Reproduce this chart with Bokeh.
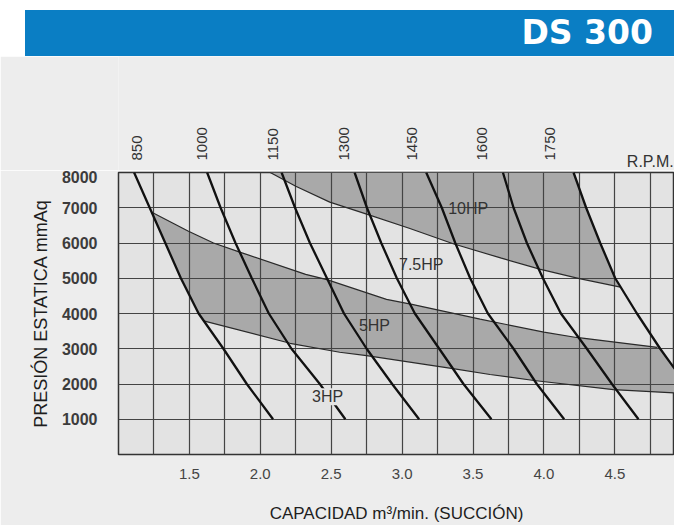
import math
from bokeh.plotting import figure
from bokeh.models import Range1d, FixedTicker, Div, Label
from bokeh.core.properties import value
from bokeh.layouts import column
from bokeh.embed import file_html
from bokeh.resources import INLINE

# ---------------- data ----------------
pressure = [8000, 7000, 6000, 5000, 4000, 3000, 2000, 1000]

rpm_850 = [1.11, 1.22, 1.33, 1.44, 1.565, 1.74, 1.905, 2.09]
rpm_1000 = [1.625, 1.72, 1.825, 1.94, 2.06, 2.22, 2.42, 2.60]
rpm_1150 = [2.15, 2.245, 2.35, 2.47, 2.59, 2.75, 2.93, 3.12]
rpm_1300 = [2.665, 2.752, 2.853, 2.963, 3.09, 3.262, 3.433, 3.63]
rpm_1450 = [3.17, 3.28, 3.375, 3.48, 3.605, 3.786, 3.95, 4.143]
rpm_1600 = [3.711, 3.786, 3.88, 3.993, 4.12, 4.303, 4.48, 4.667]
rpm_1750 = [4.209, 4.298, 4.397, 4.503, 4.656, 4.82, 5.0, 5.19]

rpm_names = ["850", "1000", "1150", "1300", "1450", "1600", "1750"]
rpm_label_x = [1.13, 1.59, 2.09, 2.59, 3.07, 3.56, 4.04]
rpm_unit = ["R.P.M."]
rpm_unit_x = [4.585]

# HP band boundaries
hp10_low_x = [2.07, 2.25, 2.49, 2.75, 3.05, 3.36, 3.70, 3.97, 4.25, 4.54]
hp10_low_y = [8000, 7610, 7160, 6820, 6420, 5980, 5570, 5260, 4990, 4750]

hp5_up_x = [1.235, 1.49, 1.67, 1.85, 2.32, 2.47, 2.89, 3.07, 3.55, 4.00, 4.23, 4.80]
hp5_up_y = [6870, 6340, 6000, 5750, 5110, 4960, 4400, 4260, 3840, 3470, 3320, 3040]

hp5_low_x = [1.60, 2.21, 2.56, 2.75, 3.37, 3.62, 3.93, 4.49, 4.92]
hp5_low_y = [3790, 3155, 2900, 2806, 2430, 2270, 2100, 1840, 1745]

hp_names = ["3HP", "5HP", "7.5HP", "10HP"]
hp_label_x = [2.475, 2.805, 3.135, 3.466]
hp_label_y = [1640, 3670, 5390, 6966]

x_ticks = [1.5, 2.0, 2.5, 3.0, 3.5, 4.0, 4.5]
x_tick_labels = ["1.5", "2.0", "2.5", "3.0", "3.5", "4.0", "4.5"]
x_grid = [1.25, 1.5, 1.75, 2.0, 2.25, 2.5, 2.75, 3.0, 3.25, 3.5, 3.75, 4.0, 4.25, 4.5, 4.75]
y_ticks = [1000, 2000, 3000, 4000, 5000, 6000, 7000, 8000]
y_grid = [1000, 2000, 3000, 4000, 5000, 6000, 7000]

title_text = "DS 300"
x_title = "CAPACIDAD m³/min. (SUCCIÓN)"
y_title = "PRESIÓN ESTATICA mmAq"

# ---------------- styles ----------------
PAGE_BG = "#ededed"
FRAME_BG = "#e3e3e3"
SHADE = "#a9a9a9"
BLUE = "#0a7ec4"
TXT = "#333333"
SANS = "Liberation Sans"

# ---------------- banner ----------------
banner = Div(
    text=('<div style="width:649px;height:46px;background:%s;text-align:right;'
          'box-sizing:border-box;padding-right:21px;line-height:46px;color:white;'
          'font-family:\'DejaVu Sans\';font-weight:bold;font-size:33px;">%s</div>') % (BLUE, title_text),
    width=649, height=46, margin=(10, 0, 0, 25),
    styles={"background-color": BLUE})

x_range = Range1d(1.0, 4.921)

# ---------------- header strip with the R.P.M. labels ----------------
header = figure(width=674, height=114, output_backend="svg", toolbar_location=None,
                x_range=x_range, y_range=Range1d(0, 114),
                x_axis_location=None, y_axis_location=None,
                min_border_left=118, min_border_right=0, min_border_top=0, min_border_bottom=0)
header.grid.visible = False
header.outline_line_color = None
header.background_fill_color = PAGE_BG
header.border_fill_color = PAGE_BG
header.text(x=rpm_label_x, y=[10] * len(rpm_label_x), text=rpm_names, angle=math.pi / 2,
            text_align="left", text_baseline="middle", text_color=TXT,
            text_font=value(SANS), text_font_size=value("15px"))
header.text(x=rpm_unit_x, y=[9], text=rpm_unit, text_align="left", text_baseline="alphabetic",
            text_color=TXT, text_font=value(SANS), text_font_size=value("16px"))

# ---------------- main chart ----------------
p = figure(width=674, height=355, output_backend="svg", toolbar_location=None,
           x_range=x_range, y_range=Range1d(0, 8000),
           min_border_left=118, min_border_right=0, min_border_top=2, min_border_bottom=69)
p.background_fill_color = FRAME_BG
p.border_fill_color = PAGE_BG
p.outline_line_color = "#333333"
p.outline_line_width = 1.5

# grid
p.xgrid.ticker = FixedTicker(ticks=x_grid)
p.ygrid.ticker = FixedTicker(ticks=y_grid)
for g in (p.xgrid, p.ygrid):
    g.grid_line_color = "#444444"
    g.grid_line_width = 1.2

# axes
xa = p.xaxis[0]
xa.ticker = FixedTicker(ticks=x_ticks)
xa.major_label_overrides = {t: l for t, l in zip(x_ticks, x_tick_labels)}
ya = p.yaxis[0]
ya.ticker = FixedTicker(ticks=y_ticks)
for ax in (xa, ya):
    ax.axis_line_color = None
    ax.major_tick_line_color = None
    ax.minor_tick_line_color = None
    ax.major_label_text_font = SANS
    ax.axis_label_text_font = SANS
    ax.axis_label_text_font_style = "normal"
    ax.axis_label_text_color = "#1e1e1e"
xa.major_label_text_font_size = "15px"
xa.major_label_text_color = "#444444"
xa.major_label_standoff = 8
xa.axis_label = x_title
xa.axis_label_text_font_size = "17px"
xa.axis_label_standoff = 22
ya.major_label_text_font_size = "16px"
ya.major_label_text_font_style = "bold"
ya.major_label_text_color = "#3c3c3c"
ya.major_label_standoff = 15
ya.axis_label = y_title
ya.axis_label_text_font_size = "18px"
ya.axis_label_standoff = 8


def between(xs, ys, lo, hi):
    """curve points strictly between two pressures, ordered by ascending pressure"""
    pts = [(x, y) for x, y in zip(xs, ys) if lo < y < hi]
    pts.sort(key=lambda t: t[1])
    return pts


# 10HP band polygon: lower boundary, then up the 1750 curve, back along the top
pts10 = list(zip(hp10_low_x, hp10_low_y)) + between(rpm_1750, pressure, hp10_low_y[-1], hp10_low_y[0] + 1)
p.patch([a for a, b in pts10], [b for a, b in pts10], fill_color=SHADE, line_color=None, level="image")

# 5HP band polygon
r1750_down = between(rpm_1750, pressure, hp5_low_y[-1], hp5_up_y[-1])[::-1]
r850_up = between(rpm_850, pressure, hp5_low_y[0], hp5_up_y[0])
pts5 = (list(zip(hp5_up_x, hp5_up_y)) + r1750_down +
        list(zip(hp5_low_x, hp5_low_y))[::-1] + r850_up)
p.patch([a for a, b in pts5], [b for a, b in pts5], fill_color=SHADE, line_color=None, level="image")

# band boundary lines
for bx, by in ((hp10_low_x, hp10_low_y), (hp5_up_x, hp5_up_y), (hp5_low_x, hp5_low_y)):
    p.line(bx, by, line_color="#2a2a2a", line_width=1.2)

# rpm curves
for curve in (rpm_850, rpm_1000, rpm_1150, rpm_1300, rpm_1450, rpm_1600, rpm_1750):
    p.line(curve, pressure, line_color="#111111", line_width=2.3)

# HP labels
for i, (name, lx, ly) in enumerate(zip(hp_names, hp_label_x, hp_label_y)):
    p.add_layout(Label(x=lx, y=ly, text=name, text_align="center", text_baseline="middle",
                       text_color=TXT, text_font=SANS, text_font_size="16px",
                       background_fill_color=FRAME_BG if i == 0 else None))

layout = column(banner, header, p, spacing=0)
html = file_html(layout, INLINE)
html = html.replace("<body>", '<body style="background:%s;">' % PAGE_BG, 1)
open("out.html", "w").write(html)
